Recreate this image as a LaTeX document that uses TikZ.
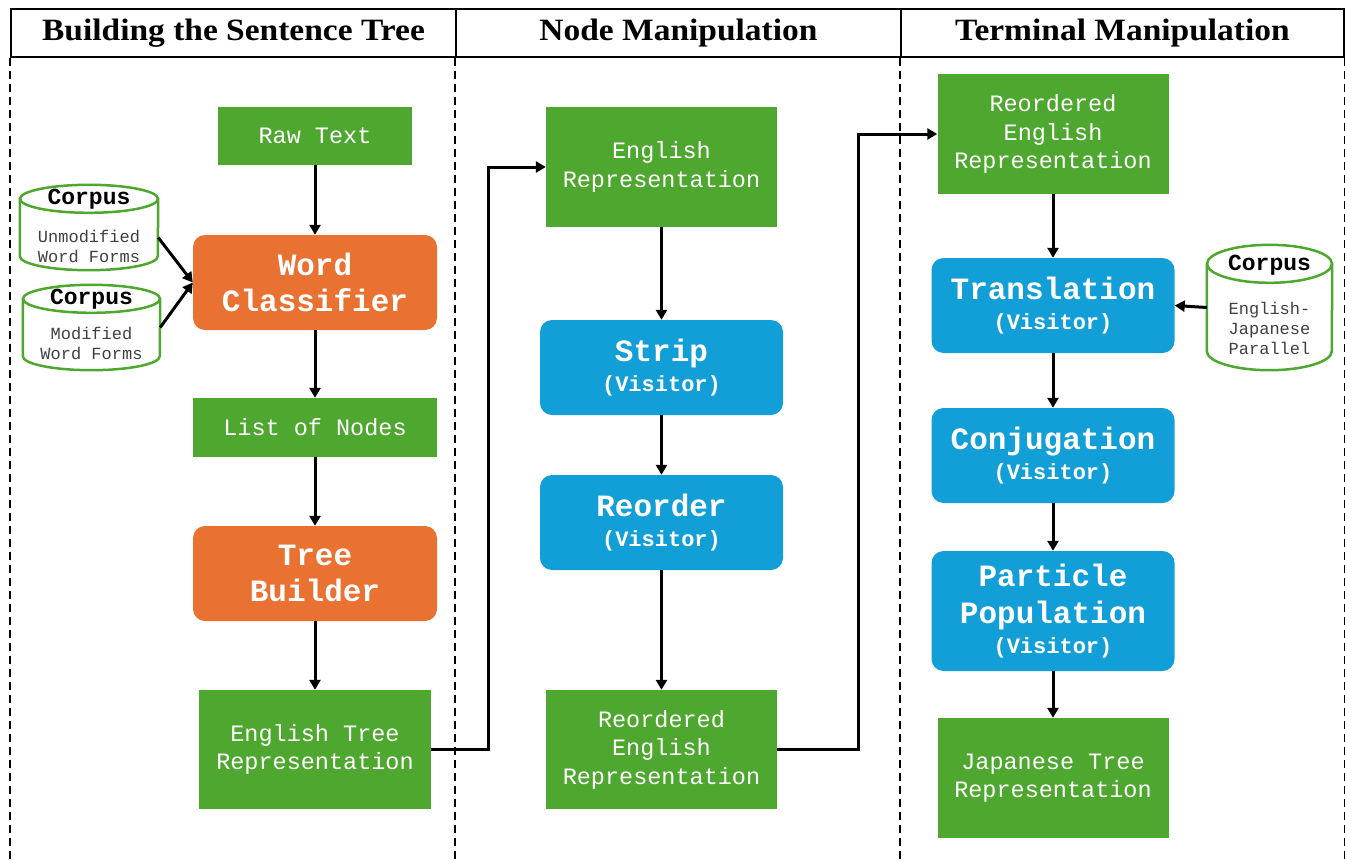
\documentclass[tikz,border=0pt]{standalone}
\usepackage{fontspec}
\setmainfont{Liberation Serif}
\newfontfamily\headfont[FakeStretch=1.08]{Liberation Serif}
\newfontfamily\mono{Liberation Mono}
\usetikzlibrary{arrows.meta}
\definecolor{boxgreen}{HTML}{4EA72E}
\definecolor{boxorange}{HTML}{E97132}
\definecolor{boxblue}{HTML}{129ED6}
\definecolor{corpusgray}{HTML}{404040}
\newcommand{\fs}[2]{\fontsize{#1}{#2}\selectfont}
\newcommand{\vsub}{{\fs{22}{33}(Visitor)}}
% cylinder outline drawn around a named placeholder node
\newcommand{\corpusshape}[2]{% node name, ellipse half-height
  \fill[white] (#1.north west) rectangle (#1.south east);
  \draw[cylline] ([yshift=-#2]#1.north west) -- ([yshift=#2]#1.south west)
    arc[start angle=180, end angle=0, x radius=0.5*\cylw, y radius=#2]
    -- ([yshift=-#2]#1.north east);
  \draw[cylline] ([yshift=-#2]#1.north) ellipse[x radius=0.5*\cylw, y radius=#2];
}
\begin{document}
\begin{tikzpicture}[x=1pt,y=-1pt,
  greenbox/.style={fill=boxgreen, text=white, align=center, inner sep=0pt,
    font=\mono\fs{23.5}{28.5}},
  orangebox/.style={fill=boxorange, text=white, align=center, inner sep=0pt,
    rounded corners=12pt, font=\mono\bfseries\fs{31}{36}, minimum width=244pt, minimum height=95pt},
  bluebox/.style={fill=boxblue, text=white, align=center, inner sep=0pt,
    rounded corners=12pt, minimum width=243pt, font=\mono\bfseries\fs{31}{33}},
  head/.style={draw=black, line width=2pt, font=\headfont\bfseries\fs{31}{34}, inner sep=0pt},
  dashline/.style={line width=2pt, dash pattern=on 8pt off 5pt},
  arr/.style={line width=3pt, -{Triangle[length=10pt,width=11pt]}},
  cylline/.style={draw=boxgreen, line width=2.5pt},
  ctitle/.style={font=\mono\bfseries\fs{23}{24}, inner sep=0pt},
  cbody/.style={font=\mono\fs{17}{20}, text=corpusgray, align=center, inner sep=0pt},
]
\useasboundingbox (0,0) rectangle (1345,862);

% ---------------- headers and column separators ----------------
\node[head, minimum width=445pt, minimum height=48pt, anchor=north west] (h1) at (10,8) {Building the Sentence Tree};
\node[head, minimum width=445pt, minimum height=48pt, anchor=north west] (h2) at (455,8) {Node Manipulation};
\node[head, minimum width=443pt, minimum height=48pt, anchor=north west] (h3) at (900,8) {Terminal Manipulation};
\foreach \c in {h1.south west, h2.south west, h3.south west, h3.south east}
  \draw[dashline] (\c) -- (\c |- 0,862);

% ---------------- column 1 ----------------
\node[greenbox, minimum width=194pt, minimum height=58pt] (raw) at (315,136) {Raw Text};
\node[orangebox] (wc) at (315,282.5) {Word\\Classifier};
\node[greenbox, minimum width=244pt, minimum height=59pt] (lon) at (315,427.5) {List of Nodes};
\node[orangebox] (tb) at (315,573.5) {Tree\\Builder};
\node[greenbox, minimum width=232pt, minimum height=119pt] (etr) at (315,749.5) {English Tree\\Representation};

\def\cylw{138}
\node[minimum width=138pt, minimum height=85pt, inner sep=0pt] (c1) at (89,227.5) {};
\corpusshape{c1}{14}
\node[ctitle] (c1t) at (89,199) {Corpus};
\node[cbody] (c1b) at (89,246.5) {Unmodified\\Word Forms};
\def\cylw{137}
\node[minimum width=137pt, minimum height=85pt, inner sep=0pt] (c2) at (91.5,327.5) {};
\corpusshape{c2}{14}
\node[ctitle] (c2t) at (91.5,299) {Corpus};
\node[cbody] (c2b) at (91.5,343) {Modified\\Word Forms};

\draw[arr] (raw) -- (wc);
\draw[arr] (wc) -- (lon);
\draw[arr] (lon) -- (tb);
\draw[arr] (tb) -- (etr);
\draw[arr] ([yshift=-10pt]c1.east) -- (wc.west);
\draw[arr] (c2.east) -- (wc.west);

% ---------------- column 2 ----------------
\node[greenbox, minimum width=231pt, minimum height=120pt] (er) at (661.5,167) {English\\Representation};
\node[bluebox, minimum height=95pt] (strip) at (661.5,367.5) {Strip\\[-3pt]\vsub};
\node[bluebox, minimum height=95pt] (reord) at (661.5,522.5) {Reorder\\[-3pt]\vsub};
\node[greenbox, minimum width=231pt, minimum height=119pt] (re2) at (661.5,749.5) {Reordered\\English\\Representation};

\draw[arr] (etr.east) -- ++(57,0) |- (er.west);
\draw[arr] (er) -- (strip);
\draw[arr] (strip) -- (reord);
\draw[arr] (reord) -- (re2);

% ---------------- column 3 ----------------
\node[greenbox, minimum width=231pt, minimum height=120pt] (re3) at (1053,134) {Reordered\\English\\Representation};
\node[bluebox, minimum height=95pt] (trans) at (1053,305.5) {Translation\\[-3pt]\vsub};
\node[bluebox, minimum height=95pt] (conj) at (1053,455.5) {Conjugation\\[-3pt]\vsub};
\node[bluebox, minimum height=120pt] (part) at (1053,611) {Particle\\[4pt]Population\\[-3pt]\vsub};
\node[greenbox, minimum width=231pt, minimum height=120pt] (jap) at (1053,778) {Japanese Tree\\Representation};

\def\cylw{125}
\node[minimum width=125pt, minimum height=125pt, inner sep=0pt] (c3) at (1269.5,307.5) {};
\corpusshape{c3}{19}
\node[ctitle] (c3t) at (1269.5,265) {Corpus};
\node[cbody] (c3b) at (1269.5,328) {English-\\Japanese\\Parallel};

\draw[arr] (re2.east) -- ++(81,0) |- (re3.west);
\draw[arr] (re3) -- (trans);
\draw[arr] (trans) -- (conj);
\draw[arr] (conj) -- (part);
\draw[arr] (part) -- (jap);
\draw[arr] (c3.west) -- (trans.east);
\end{tikzpicture}
\end{document}
